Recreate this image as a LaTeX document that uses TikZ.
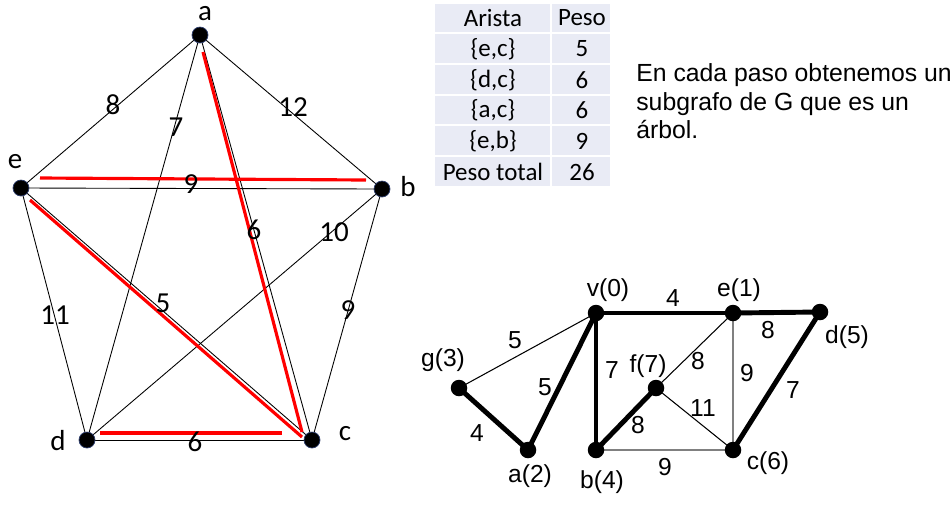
\documentclass[tikz,border=0pt]{standalone}
\usepackage{fontspec}
\setmainfont{Carlito}
\newfontfamily\arial{Liberation Sans}
\definecolor{cellbg}{HTML}{E9EBF5}
\definecolor{nodeedge}{HTML}{2F3F6F}
\begin{document}
\begin{tikzpicture}[x=0.02cm,y=-0.02cm,
  vtx/.style={circle,fill=black,draw=nodeedge,line width=0.4pt,inner sep=0pt,minimum size=0.32cm},
  bvtx/.style={circle,fill=black,inner sep=0pt,minimum size=0.33cm},
  thinedge/.style={black,line width=0.5pt},
  redline/.style={red,line width=1.8pt},
  lbl/.style={font=\fontsize{16.5}{18}\selectfont,inner sep=0pt},
  wlbl/.style={font=\fontsize{16.5}{18}\selectfont,inner sep=0pt},
  cell/.style={fill=cellbg,draw=white,line width=1pt},
  ctext/.style={font=\fontsize{14.2}{16}\selectfont,inner sep=0pt},
  rtext/.style={font=\arial\fontsize{14.1}{16}\selectfont,inner sep=0pt,anchor=base west},
  blbl/.style={font=\arial\fontsize{14}{15}\selectfont,inner sep=0pt},
  thickedge/.style={black,line width=2.8pt},
  bthin/.style={black,line width=0.6pt},
  bgray/.style={gray,line width=0.8pt}]
\useasboundingbox (0,0) rectangle (950,515);
% ---------- left graph ----------
\coordinate (pa) at (200,35);
\coordinate (pe) at (21,188);
\coordinate (pb) at (382,189);
\coordinate (pd) at (87,440);
\coordinate (pc) at (312,440);
\draw[thinedge] (pa) -- (pe);
\draw[thinedge] (pa) -- (pb);
\draw[thinedge] (pa) -- (pd);
\draw[thinedge] (pa) -- (pc);
\draw[thinedge] (pe) -- (pb);
\draw[thinedge] (pe) -- (pc);
\draw[thinedge] (pe) -- (pd);
\draw[thinedge] (pb) -- (pd);
\draw[thinedge] (pb) -- (pc);
\draw[thinedge] (pd) -- (pc);
% red tree edges
\coordinate (r1a) at (40,178); \coordinate (r1b) at (366,180);
\coordinate (r2a) at (203,52); \coordinate (r2b) at (302,432);
\coordinate (r3a) at (30,200); \coordinate (r3b) at (302,437);
\coordinate (r4a) at (100,433); \coordinate (r4b) at (282,433);
\draw[redline] (r1a) -- (r1b);
\draw[redline] (r2a) -- (r2b);
\draw[redline] (r3a) -- (r3b);
\draw[redline] (r4a) -- (r4b);
\node[vtx] (a) at (pa) {};
\node[vtx] (e) at (pe) {};
\node[vtx] (b) at (pb) {};
\node[vtx] (d) at (pd) {};
\node[vtx] (c) at (pc) {};
\node[lbl] (la) at (205,14) {a};
\node[lbl] (le) at (15,162) {e};
\node[lbl] (lb) at (408,187) {b};
\node[lbl] (ld) at (58,441) {d};
\node[lbl] (lc) at (345,434) {c};
\node[wlbl] (w8) at (113,105) {8};
\node[wlbl] (w7) at (176,127) {7};
\node[wlbl] (w12) at (293,107) {12};
\node[wlbl] (w9a) at (191,184) {9};
\node[wlbl] (w6a) at (254,230) {6};
\node[wlbl] (w10) at (334,232) {10};
\node[wlbl] (w11) at (55,315) {11};
\node[wlbl] (w5) at (163,303) {5};
\node[wlbl] (w9b) at (348,310) {9};
\node[wlbl] (w6b) at (195,442) {6};
% ---------- table ----------
\foreach \ya/\yb in {3/33,33/64,64/95,95/125,125/156,156/187}{
  \draw[cell] (434,\ya) rectangle (551,\yb);
  \draw[cell] (551,\ya) rectangle (611,\yb);
}
\node[ctext] (t11) at (493,18) {Arista};
\node[ctext] (t12) at (582,18) {Peso};
\node[ctext] (t21) at (493,49) {\{e,c\}};
\node[ctext] (t22) at (582,49) {5};
\node[ctext] (t31) at (493,80) {\{d,c\}};
\node[ctext] (t32) at (582,80) {6};
\node[ctext] (t41) at (493,110) {\{a,c\}};
\node[ctext] (t42) at (582,110) {6};
\node[ctext] (t51) at (493,141) {\{e,b\}};
\node[ctext] (t52) at (582,141) {9};
\node[ctext] (t61) at (493,172) {Peso total};
\node[ctext] (t62) at (582,172) {26};
% ---------- right text ----------
\node[rtext] (s1) at (636,81) {En cada paso obtenemos un};
\node[rtext] (s2) at (636,110) {subgrafo de G que es un};
\node[rtext] (s3) at (636,138) {árbol.};
% ---------- bottom-right graph ----------
\coordinate (qv) at (596,313);
\coordinate (qe) at (733,313);
\coordinate (qd) at (820,312);
\coordinate (qg) at (459,388);
\coordinate (qa) at (528,450);
\coordinate (qf) at (656,388);
\coordinate (qb) at (596,450);
\coordinate (qc) at (733,450);
\draw[bthin] (qv) -- (qg);
\draw[bthin] (qf) -- (qe);
\draw[bthin] (qf) -- (qc);
\draw[bgray] (qe) -- (qc);
\draw[bgray] (qb) -- (qc);
\draw[thickedge] (qv) -- (qe);
\draw[thickedge] (qe) -- (qd);
\draw[thickedge] (qv) -- (qa);
\draw[thickedge] (qg) -- (qa);
\draw[thickedge] (qv) -- (qb);
\draw[thickedge] (qb) -- (qf);
\draw[thickedge] (qd) -- (qc);
\node[bvtx] (v0) at (qv) {};
\node[bvtx] (e1) at (qe) {};
\node[bvtx] (d5) at (qd) {};
\node[bvtx] (g3) at (qg) {};
\node[bvtx] (a2) at (qa) {};
\node[bvtx] (f7) at (qf) {};
\node[bvtx] (b4) at (qb) {};
\node[bvtx] (c6) at (qc) {};
\node[blbl] (lv0) at (608,290) {v(0)};
\node[blbl] (le1) at (739,290) {e(1)};
\node[blbl] (ld5) at (847,337) {d(5)};
\node[blbl] (lg3) at (443,360) {g(3)};
\node[blbl] (lf7) at (648,366) {f(7)};
\node[blbl] (la2) at (530,476) {a(2)};
\node[blbl] (lb4) at (602,482) {b(4)};
\node[blbl] (lc6) at (768,463) {c(6)};
\node[blbl] (bw1) at (673,298) {4};
\node[blbl] (bw2) at (768,330) {8};
\node[blbl] (bw3) at (515,340) {5};
\node[blbl] (bw4) at (545,387) {5};
\node[blbl] (bw5) at (477,433) {4};
\node[blbl] (bw6) at (612,370) {7};
\node[blbl] (bw7) at (698,361) {8};
\node[blbl] (bw8) at (747,373) {9};
\node[blbl] (bw9) at (703,408) {11};
\node[blbl] (bw10) at (638,425) {8};
\node[blbl] (bw11) at (665,467) {9};
\node[blbl] (bw12) at (793,390) {7};
\end{tikzpicture}
\end{document}
